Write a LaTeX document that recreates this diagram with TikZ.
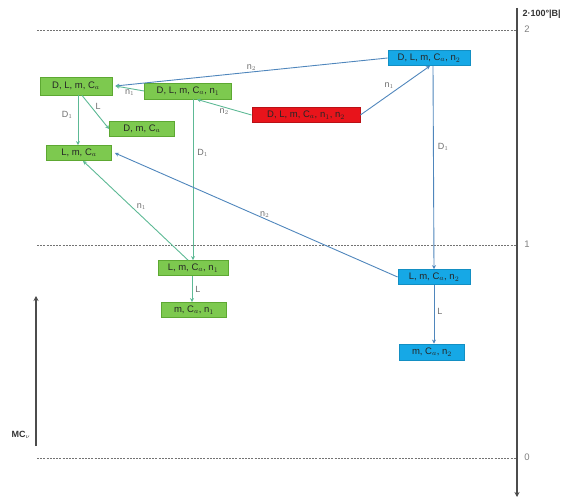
\documentclass[tikz,border=0pt]{standalone}
\usepackage{fontspec}
\setmainfont{Liberation Sans}
\usetikzlibrary{arrows.meta}
\definecolor{gfill}{HTML}{7DC94F}
\definecolor{gdraw}{HTML}{5DA832}
\definecolor{rfill}{HTML}{E8141B}
\definecolor{bfill}{HTML}{16A8E6}
\definecolor{gline}{HTML}{5DB995}
\definecolor{bline}{HTML}{4F86BC}
\definecolor{lbl}{HTML}{6E6E6E}
\tikzset{
  box/.style={draw, line width=0.8pt, inner sep=0pt, minimum height=15pt, font=\fontsize{9.5}{10}\selectfont, text=black!85},
  gbox/.style={box, fill=gfill, draw=gdraw},
  rbox/.style={box, fill=rfill, draw=rfill!80!black},
  bbox/.style={box, fill=bfill, draw=bfill!85!black},
  gedge/.style={draw=gline, line width=0.9pt, -{Stealth[length=4pt,width=4pt]}, color=gline},
  bedge/.style={draw=bline, line width=0.9pt, -{Stealth[length=4pt,width=4pt]}, color=bline},
  elab/.style={text=lbl, font=\fontsize{9}{10}\selectfont, inner sep=1pt},
  dashline/.style={draw=black!55, dash pattern=on 2pt off 1.2pt, line width=0.6pt},
  axis/.style={draw=black!60, line width=1.1pt},
  ticklab/.style={text=black!50, font=\fontsize{9.5}{10}\selectfont},
}
\begin{document}
\begin{tikzpicture}[x=1pt,y=-1pt]
\useasboundingbox (0,0) rectangle (576,500);
% dashed levels
\draw[dashline] (37,30) -- (517,30);
\draw[dashline] (37,245) -- (517,245);
\draw[dashline] (37,458) -- (517,458);
% right axis
\coordinate (rt) at (517,8);
\coordinate (rb) at (517,497);
\draw[axis, -{Stealth[length=5pt,width=5pt]}, color=black!70] (rt) -- (rb);
\node[font=\bfseries\fontsize{9}{10}\selectfont, text=black!80, anchor=west] (blab) at (519,14) {2·100°|B|};
\node[ticklab] (t2) at (527,29) {2};
\node[ticklab] (t1) at (527,244) {1};
\node[ticklab] (t0) at (527,457) {0};
% left axis
\coordinate (lb) at (36,446);
\coordinate (lt) at (36,296);
\draw[axis, -{Stealth[length=5pt,width=5pt]}, color=black!70] (lb) -- (lt);
\node[font=\bfseries\fontsize{9}{10}\selectfont, text=black!80] (mc) at (21,435) {MC$_\nu$};
% nodes
\node[gbox, minimum width=72pt, minimum height=18pt] (A) at (76,86) {D, L, m, C$_a$};
\node[gbox, minimum width=87pt, minimum height=16pt] (B) at (188,91) {D, L, m, C$_a$, n$_1$};
\node[gbox, minimum width=65pt] (C) at (142,129) {D, m, C$_a$};
\node[gbox, minimum width=65pt] (D) at (79,153) {L, m, C$_a$};
\node[gbox, minimum width=70pt] (E) at (193,268) {L, m, C$_a$, n$_1$};
\node[gbox, minimum width=65pt] (F) at (194,310) {m, C$_a$, n$_1$};
\node[rbox, minimum width=108pt] (R) at (306,115) {D, L, m, C$_a$, n$_1$, n$_2$};
\node[bbox, minimum width=82pt] (P) at (429,58) {D, L, m, C$_a$, n$_2$};
\node[bbox, minimum width=72pt] (Q) at (434,277) {L, m, C$_a$, n$_2$};
\node[bbox, minimum width=65pt, minimum height=16pt] (S) at (432,352) {m, C$_a$, n$_2$};
% edges
\draw[bedge] (P.west) -- node[elab, above, pos=0.5] {n$_2$} ([xshift=3pt]A.east);
\draw[gedge] (B.west) -- node[elab, below, pos=0.5] {n$_1$} ([xshift=3pt]A.east);
\draw[gedge] (R.west) -- node[elab, below, pos=0.5] {n$_2$} ([xshift=9pt]B.south);
\draw[bedge] (R.east) -- node[elab, above left, pos=0.5] {n$_1$} ([xshift=1pt]P.south);
\draw[gedge] ([xshift=2pt]A.south) -- node[elab, left=4pt, pos=0.4] {D$_1$} ([xshift=-1pt]D.north);
\draw[gedge] ([xshift=6pt]A.south) -- node[elab, above right, pos=0.45] {L} (C.west);
\draw[gedge] ([xshift=5pt]B.south) -- node[elab, right=3pt, pos=0.33] {D$_1$} (E.north);
\draw[gedge] ([xshift=-5pt]E.north) -- node[elab, above right, pos=0.5] {n$_1$} ([xshift=4pt]D.south);
\draw[bedge] (Q.west) -- node[elab, above, pos=0.47] {n$_2$} ([xshift=3pt]D.east);
\draw[gedge] ([xshift=-1pt]E.south) -- node[elab, right=2pt, pos=0.5] {L} ([xshift=-2pt]F.north);
\draw[bedge] ([xshift=-1pt]P.south -| Q.north) -- node[elab, right=3pt, pos=0.4] {D$_1$} (Q.north);
\draw[bedge] (Q.south) -- node[elab, right=2pt, pos=0.45] {L} ([xshift=2pt]S.north);
\end{tikzpicture}
\end{document}
